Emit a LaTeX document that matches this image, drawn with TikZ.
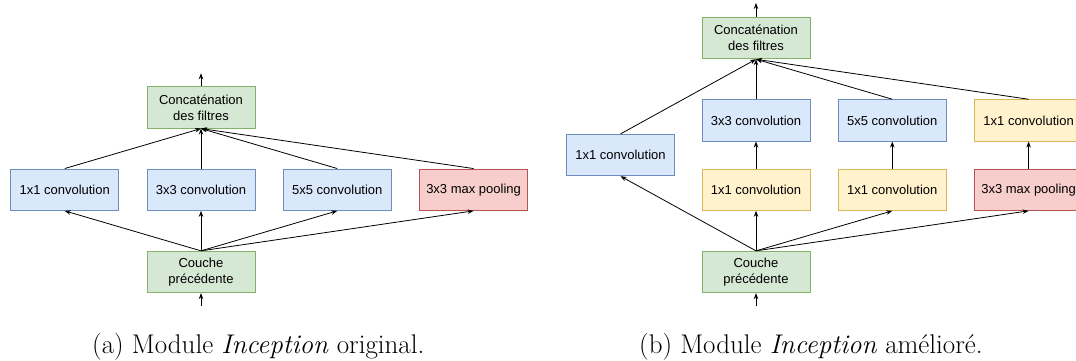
\documentclass[tikz,border=0pt]{standalone}
\usepackage{fontspec}
\newfontfamily\drawiofont{Liberation Sans}
\usepackage{tikz}
\usetikzlibrary{arrows.meta, positioning, calc}
\definecolor{greenfill}{HTML}{D5E8D4}
\definecolor{greenline}{HTML}{82B366}
\definecolor{bluefill}{HTML}{DAE8FC}
\definecolor{blueline}{HTML}{6C8EBF}
\definecolor{yellowfill}{HTML}{FFF2CC}
\definecolor{yellowline}{HTML}{D6B656}
\definecolor{redfill}{HTML}{F8CECC}
\definecolor{redline}{HTML}{B85450}
\tikzstyle{layer} = [rectangle, minimum width=108pt, minimum height=41.5pt, text centered, align=center, draw=greenline, fill=greenfill, line width=0.8pt, font=\drawiofont\fontsize{13}{16}\selectfont]
\tikzstyle{conv} = [layer, draw=blueline, fill=bluefill]
\tikzstyle{reduce} = [layer, draw=yellowline, fill=yellowfill]
\tikzstyle{pool} = [layer, draw=redline, fill=redfill]
\tikzstyle{link} = [-{Stealth[length=6pt,width=4.5pt]}, line width=0.8pt]
\tikzstyle{caption} = [font=\fontsize{27}{32}\selectfont, anchor=base west, inner sep=0pt]

\begin{document}
\begin{tikzpicture}[x=1pt, y=1pt, node distance={40pt}]
	\useasboundingbox (0,0) rectangle (1076,360);
	
	% module original
	\node[layer] (prevA) at (201,88) {Couche\\précédente};
	\node[conv, above=of prevA] (convA2) {3x3 convolution};
	\node[conv, left=27.5pt of convA2] (convA1) {1x1 convolution};
	\node[conv, right=27.5pt of convA2] (convA3) {5x5 convolution};
	\node[pool, right=27.5pt of convA3] (poolA) {3x3 max pooling};
	\node[layer, above=of convA2] (concatA) {Concaténation\\des filtres};
	\coordinate[above=13pt of concatA] (outA);
	\coordinate[below=13pt of prevA] (inA);
	
	%arrow
	\draw [link] (inA) -- (prevA);
	\draw [link] (prevA.north) -- (convA1.south);
	\draw [link] (prevA.north) -- (convA2.south);
	\draw [link] (prevA.north) -- (convA3.south);
	\draw [link] (prevA.north) -- (poolA.south);
	\draw [link] (convA1.north) -- (concatA.south);
	\draw [link] (convA2.north) -- (concatA.south);
	\draw [link] (convA3.north) -- (concatA.south);
	\draw [link] (poolA.north) -- (concatA.south);
	\draw [link] (concatA) -- (outA);
	
	% module ameliore
	\node[layer] (prevB) at (756,88) {Couche\\précédente};
	\node[reduce, above=of prevB] (redB2) {1x1 convolution};
	\node[reduce, right=27.5pt of redB2] (redB3) {1x1 convolution};
	\node[pool, right=27.5pt of redB3] (poolB) {3x3 max pooling};
	\node[conv, above=27pt of redB2] (convB2) {3x3 convolution};
	\node[conv, above=27pt of redB3] (convB3) {5x5 convolution};
	\node[reduce, above=27pt of poolB] (redB4) {1x1 convolution};
	\node[conv] (convB1) at ($(redB2)!0.5!(convB2) + (-135.5,0)$) {1x1 convolution};
	\node[layer, above=of convB2] (concatB) {Concaténation\\des filtres};
	\coordinate[above=14pt of concatB] (outB);
	\coordinate[below=13pt of prevB] (inB);
	
	%arrow
	\draw [link] (inB) -- (prevB);
	\draw [link] (prevB.north) -- (convB1.south);
	\draw [link] (prevB.north) -- (redB2.south);
	\draw [link] (prevB.north) -- (redB3.south);
	\draw [link] (prevB.north) -- (poolB.south);
	\draw [link] (redB2) -- (convB2);
	\draw [link] (redB3) -- (convB3);
	\draw [link] (poolB) -- (redB4);
	\draw [link] (convB1.north) -- (concatB.south);
	\draw [link] (convB2.north) -- (concatB.south);
	\draw [link] (convB3.north) -- (concatB.south);
	\draw [link] (redB4.north) -- (concatB.south);
	\draw [link] (concatB) -- (outB);
	
	\node[caption] (capA) at (92,7) {(a) Module \emph{Inception} original.};
	\node[caption] (capB) at (639,7) {(b) Module \emph{Inception} amélioré.};
\end{tikzpicture}
\end{document}
